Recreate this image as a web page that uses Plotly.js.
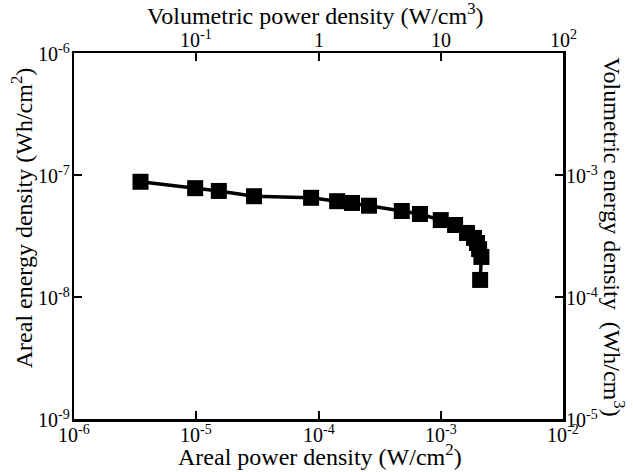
<!DOCTYPE html>
<html><head><meta charset="utf-8">
<script src="https://cdn.plot.ly/plotly-3.0.1.min.js"></script>
<style>html,body{margin:0;padding:0;background:#fff;}#chart{width:633px;height:472px;}</style>
</head><body><div id="chart"></div>
<script>
// Areal power density (W/cm^2)
const arealPower = [3.5e-6, 9.8e-6, 1.53e-5, 2.97e-5, 8.7e-5, 1.42e-4, 1.88e-4, 2.59e-4, 4.8e-4, 6.76e-4, 1.0e-3, 1.31e-3, 1.64e-3, 1.87e-3, 1.98e-3, 2.06e-3, 2.15e-3, 2.1e-3];
// Areal energy density (Wh/cm^2)
const arealEnergy = [8.8e-8, 7.8e-8, 7.4e-8, 6.7e-8, 6.5e-8, 6.1e-8, 5.9e-8, 5.6e-8, 5.07e-8, 4.79e-8, 4.27e-8, 3.89e-8, 3.35e-8, 3.05e-8, 2.77e-8, 2.47e-8, 2.13e-8, 1.38e-8];

const bottomTickVals = [1e-6, 1e-5, 1e-4, 1e-3, 1e-2];
const bottomTickText = ['10<sup>-6</sup>', '10<sup>-5</sup>', '10<sup>-4</sup>', '10<sup>-3</sup>', '10<sup>-2</sup>'];
const leftTickVals = [1e-9, 1e-8, 1e-7, 1e-6];
const leftTickText = ['10<sup>-9</sup>', '10<sup>-8</sup>', '10<sup>-7</sup>', '10<sup>-6</sup>'];
const topTickVals = [0.1, 1, 10, 100];
const topTickText = ['10<sup>-1</sup>', '1', '10', '10<sup>2</sup>'];
const rightTickVals = [1e-5, 1e-4, 1e-3];
const rightTickText = ['10<sup>-5</sup>', '10<sup>-4</sup>', '10<sup>-3</sup>'];

const xTitle = 'Areal power density (W/cm<sup>2</sup>)';
const yTitle = 'Areal energy density (Wh/cm<sup>2</sup>)';
const x2Title = 'Volumetric power density (W/cm<sup>3</sup>)';
const y2Title = 'Volumetric energy density  (Wh/cm<sup>3</sup>)';

const F = 'Liberation Serif';
const TS = 20, TT = 24;
const tickFont = () => ({family: F, size: TS, color: '#000'});
const titleFont = () => ({family: F, size: TT, color: '#000'});

function axis(extra) {
  return Object.assign({type: 'log', showline: true, linewidth: 2.5, linecolor: '#000', ticks: 'inside', ticklen: 8, tickwidth: 2, tickcolor: '#000',
    showgrid: false, zeroline: false, tickmode: 'array', showticklabels: false}, extra);
}

const traces = [
  {x: arealPower, y: arealEnergy, type: 'scatter', mode: 'lines+markers', xaxis: 'x', yaxis: 'y',
   line: {color: '#000', width: 3.5}, marker: {symbol: 'square', size: 16, color: '#000'}, showlegend: false, hoverinfo: 'none'},
  {x: [1], y: [1e-3], type: 'scatter', mode: 'markers', xaxis: 'x2', yaxis: 'y2', marker: {opacity: 0}, showlegend: false, hoverinfo: 'none'}
];

const ann = [];
bottomTickVals.forEach((v, i) => ann.push({text: bottomTickText[i], xref: 'x', yref: 'paper', x: Math.log10(v), y: 0,
  xanchor: 'center', yanchor: 'top', yshift: -1, showarrow: false, font: tickFont()}));
topTickVals.forEach((v, i) => ann.push({text: topTickText[i], xref: 'x2', yref: 'paper', x: Math.log10(v), y: 1,
  xanchor: 'center', yanchor: 'bottom', yshift: 0, showarrow: false, font: tickFont()}));
leftTickVals.forEach((v, i) => ann.push({text: leftTickText[i], xref: 'paper', yref: 'y', x: 0, y: Math.log10(v),
  xanchor: 'right', yanchor: 'middle', xshift: -2, showarrow: false, font: tickFont()}));
rightTickVals.forEach((v, i) => ann.push({text: rightTickText[i], xref: 'paper', yref: 'y2', x: 1, y: Math.log10(v),
  xanchor: 'left', yanchor: 'middle', xshift: 1, showarrow: false, font: tickFont()}));

ann.push({text: xTitle, xref: 'paper', yref: 'paper', x: 0.503, y: -0.099, xanchor: 'center', yanchor: 'middle', showarrow: false, font: titleFont()});
ann.push({text: x2Title, xref: 'paper', yref: 'paper', x: 0.493, y: 1.106, xanchor: 'center', yanchor: 'middle', showarrow: false, font: titleFont()});
ann.push({text: yTitle, textangle: -90, xref: 'paper', yref: 'paper', x: -0.106, y: 0.549, xanchor: 'center', yanchor: 'middle', showarrow: false, font: titleFont()});
ann.push({text: y2Title, textangle: 90, xref: 'paper', yref: 'paper', x: 1.104, y: 0.497, xanchor: 'center', yanchor: 'middle', showarrow: false, font: titleFont()});

const layout = {
  width: 633, height: 472,
  font: {family: F, color: '#000', size: TS},
  margin: {l: 74, r: 70, t: 53, b: 53},
  paper_bgcolor: '#fff', plot_bgcolor: '#fff',
  xaxis: axis({range: [-6, -2], tickvals: bottomTickVals, ticktext: bottomTickText, side: 'bottom'}),
  yaxis: axis({range: [-9, -6], tickvals: leftTickVals, ticktext: leftTickText, side: 'left'}),
  xaxis2: axis({range: [-2, 2], tickvals: topTickVals, ticktext: topTickText, side: 'top', overlaying: 'x'}),
  yaxis2: axis({range: [-5, -2], tickvals: rightTickVals, ticktext: rightTickText, side: 'right', overlaying: 'y'}),
  annotations: ann
};

Plotly.newPlot('chart', traces, layout, {staticPlot: true, displayModeBar: false});
</script></body></html>
